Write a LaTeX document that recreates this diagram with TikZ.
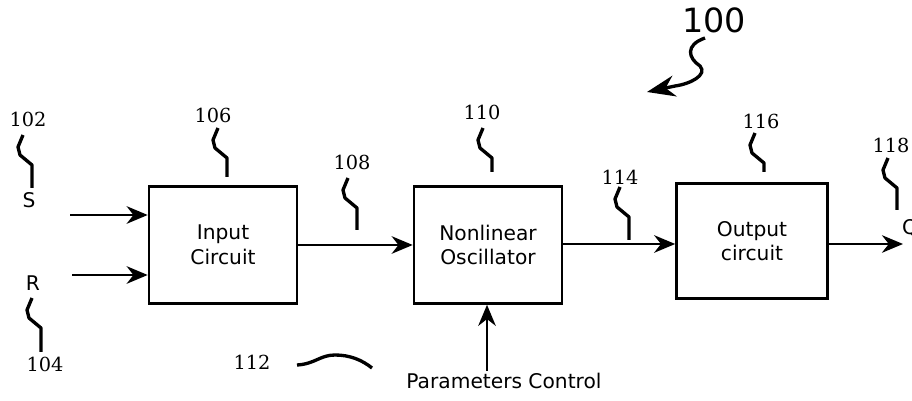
\documentclass[tikz,border=0pt]{standalone}
\usepackage{fontspec}
\setmainfont{DejaVu Sans}
\newfontfamily\numfont{DejaVu Serif}
\usepackage{tikz}
\usetikzlibrary{calc,positioning,arrows.meta}

\tikzset{
  block/.style={draw, line width=1.5pt, minimum width=2.96cm, minimum height=2.34cm,
    align=center, font=\fontsize{11.5}{14}\selectfont},
  sig/.style={line width=1.3pt, -{Stealth[length=12pt,width=10pt]}},
  lead/.style={line width=1.9pt, line join=round},
  refnum/.style={font=\numfont\fontsize{11}{12}\selectfont, inner sep=1pt},
  pin/.style={font=\fontsize{11.5}{14}\selectfont, inner sep=1pt}
}
% zigzag leader line below a reference number
\newcommand{\squig}[2]{\draw[lead] (#1) -- ++(-5,12) -- ++(2,8) -- ++(12,10) -- ++(0,#2);}

\begin{document}
\begin{tikzpicture}[x=0.02cm, y=-0.02cm, >=Stealth]
  \useasboundingbox (0,0) rectangle (912,401);
  % blocks
  \node[block] (inp) at (223,245) {Input\\Circuit};
  \node[block] (osc) at (488,245) {Nonlinear\\Oscillator};
  \node[block, minimum width=3.02cm, minimum height=2.3cm] (outc) at (752,241) {Output\\circuit};
  % inputs
  \node[pin] (s) at (29,200) {S};
  \node[pin] (r) at (33,283) {R};
  \coordinate (sIn) at (70,215);
  \coordinate (rIn) at (72,275);
  \draw[sig] (sIn) -- (sIn -| inp.west);
  \draw[sig] (rIn) -- (rIn -| inp.west);
  % signal path
  \draw[sig] (inp.east) -- (osc.west);
  \coordinate (mid) at (562,244);
  \draw[sig] (osc.east |- mid) -- (mid -| outc.west);
  \coordinate (qEnd) at (903,244);
  \draw[sig] (outc.east |- qEnd) -- (qEnd);
  \node[pin, anchor=west] (q) at (900,228) {Q};
  % parameters control
  \node[pin] (pc) at (504,381) {Parameters Control};
  \coordinate (pcBot) at (487,371);
  \draw[sig] (pcBot) -- (pcBot |- osc.south);
  % reference numbers
  \node[refnum] (n102) at (28,119) {102};
  \node[refnum] (n104) at (45,364) {104};
  \node[refnum] (n106) at (213,115) {106};
  \node[refnum] (n108) at (352,162) {108};
  \node[refnum] (n110) at (482,112) {110};
  \node[refnum] (n112) at (252,362) {112};
  \node[refnum] (n114) at (620,177) {114};
  \node[refnum] (n116) at (761,121) {116};
  \node[refnum] (n118) at (891,145) {118};
  \node[font=\fontsize{19}{22}\selectfont, inner sep=1pt] (n100) at (714,20) {100};
  % leaders
  \squig{23,135}{23}
  \squig{32,298}{24}
  \squig{218,128}{19}
  \squig{348,178}{22}
  \squig{483,128}{14}
  \squig{620,187}{23}
  \squig{755,133}{9}
  \squig{888,158}{22}
  \coordinate (c112) at (297,365);
  \draw[lead] (c112) .. controls (315,364) and (320,355) .. (335,355)
    .. controls (350,355) and (362,360) .. (372,368);
  \coordinate (c100) at (705,38);
  \coordinate (t100) at (647,92);
  \draw[lead, -{Stealth[length=16pt,width=12pt]}] (c100) .. controls (685,45) and (688,58) .. (700,66)
    .. controls (708,75) and (690,84) .. (675,86) -- (t100);
\end{tikzpicture}
\end{document}
